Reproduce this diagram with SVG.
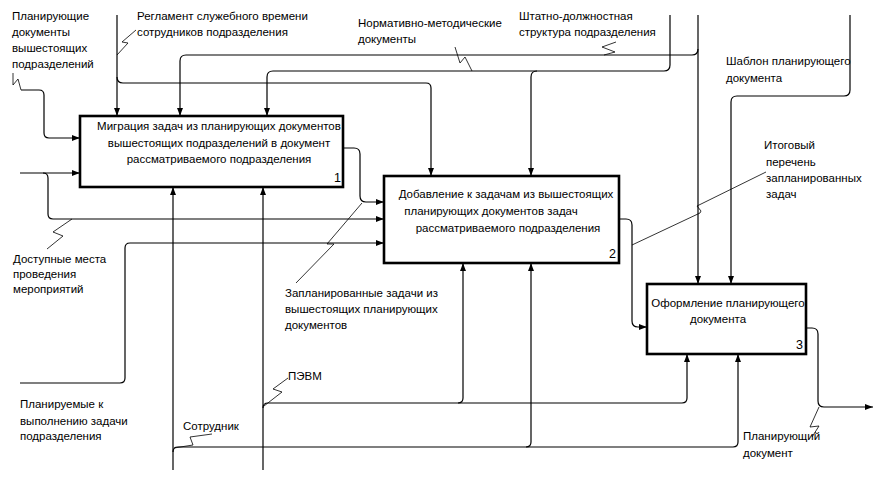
<svg xmlns="http://www.w3.org/2000/svg" width="881" height="477" viewBox="0 0 881 477">
  <defs>
    <marker id="arrow" markerUnits="userSpaceOnUse" markerWidth="10" markerHeight="8" refX="8" refY="3.5" orient="auto">
      <path d="M0,0.5 L2.5,1.5 L8,3.5 L2.5,5.5 L0,6.5 z" fill="#000"/>
    </marker>
    <style>
      .box { fill: #fff; stroke: #000; stroke-width: 2.6; }
      .con { fill: none; stroke: #000; stroke-width: 1.2; }
      .lead { fill: none; stroke: #000; stroke-width: 0.8; }
      text { font-family: "Liberation Sans", Arial, sans-serif; font-size: 11.5px; fill: #000; }
      .num { font-size: 12.5px; }
      .mid { text-anchor: middle; }
    </style>
  </defs>
  <rect width="881" height="477" fill="#fff"/>

  <!-- Connectors -->
  <g id="connectors">
    <!-- controls -->
    <path class="con" d="M117,15 V116" marker-end="url(#arrow)"/>
    <path class="con" d="M117,77 Q117,83 123,83 H426 Q431,83 431,88 V176" marker-end="url(#arrow)"/>
    <path class="con" d="M698,15 V284" marker-end="url(#arrow)"/>
    <path class="con" d="M698,49 Q698,55 692,55 H186 Q180,55 180,61 V116" marker-end="url(#arrow)"/>
    <path class="con" d="M670,15 V65 Q670,71 664,71 H273 Q267,71 267,77 V116" marker-end="url(#arrow)"/>
    <path class="con" d="M537,71 Q531,71 531,77 V176" marker-end="url(#arrow)"/>
    <path class="con" d="M850,15 V90 Q850,96 844,96 H737 Q731,96 731,102 V284" marker-end="url(#arrow)"/>
    <!-- inputs -->
    <path class="con" d="M21,90 H39 Q44,90 44,95 V133 Q44,138 49,138 H80" marker-end="url(#arrow)"/>
    <path class="con" d="M20,173 H80" marker-end="url(#arrow)"/>
    <path class="con" d="M43,173 Q48,173 48,178 V214 Q48,219 53,219 H384" marker-end="url(#arrow)"/>
    <path class="con" d="M20,383 H120 Q125,383 125,378 V248 Q125,243 130,243 H384" marker-end="url(#arrow)"/>
    <!-- outputs -->
    <path class="con" d="M343,148 H354 Q360,148 360,154 V196 Q360,202 366,202 H384" marker-end="url(#arrow)"/>
    <path class="con" d="M619,219 H626 Q632,219 632,225 V321 Q632,327 638,327 H647" marker-end="url(#arrow)"/>
    <path class="con" d="M806,328 H812 Q818,328 818,334 V401 Q818,407 824,407 H873" marker-end="url(#arrow)"/>
    <!-- mechanisms -->
    <path class="con" d="M173,470 V187" marker-end="url(#arrow)"/>
    <path class="con" d="M173,452 Q173,447 178,447 H733 Q738,447 738,442 V354" marker-end="url(#arrow)"/>
    <path class="con" d="M526,447 Q531,447 531,442 V263" marker-end="url(#arrow)"/>
    <path class="con" d="M263,470 V187" marker-end="url(#arrow)"/>
    <path class="con" d="M263,408 Q263,403 268,403 H682 Q687,403 687,398 V354" marker-end="url(#arrow)"/>
    <path class="con" d="M458,403 Q463,403 463,398 V263" marker-end="url(#arrow)"/>
    <!-- label leaders -->
    <path class="lead" d="M13,73 L13,85 L18,79 L21,90"/>
    <path class="lead" d="M136,30 L122,42 L128,43 L117,55"/>
    <path class="lead" d="M455,47 L460,63 L465,57 L472,71"/>
    <path class="lead" d="M616,42 L602,47 L615,52 L604,55"/>
    <path class="lead" d="M47,249 L63,236 L53,232 L72,219"/>
    <path class="lead" d="M296,283 L334,244 L327,244 L362,203"/>
    <path class="lead" d="M766,172 L697,206 L701,211 L700,213 L632,245"/>
    <path class="lead" d="M812,437 L819,426 L810,427 L819,407"/>
    <path class="lead" d="M174,448 L193,445 L190,437 L212,434"/>
    <path class="lead" d="M264,406 L282,392 L273,389 L288,378"/>
  </g>

  <!-- Activity 1 -->
  <g id="node1">
    <rect class="box" x="80" y="116" width="263" height="71"/>
    <text class="mid" x="219" y="130">Миграция задач из планирующих документов</text>
    <text class="mid" x="219" y="147">вышестоящих подразделений в документ</text>
    <text class="mid" x="219" y="163">рассматриваемого подразделения</text>
    <text class="num" x="334" y="182">1</text>
  </g>

  <!-- Activity 2 -->
  <g id="node2">
    <rect class="box" x="384" y="176" width="235" height="87"/>
    <text class="mid" x="506" y="198">Добавление к задачам из вышестоящих</text>
    <text class="mid" x="491" y="215">планирующих документов задач</text>
    <text class="mid" x="508" y="232">рассматриваемого подразделения</text>
    <text class="num" x="609" y="258">2</text>
  </g>

  <!-- Activity 3 -->
  <g id="node3">
    <rect class="box" x="647" y="284" width="159" height="70"/>
    <text class="mid" x="728" y="307">Оформление планирующего</text>
    <text class="mid" x="718" y="323">документа</text>
    <text class="num" x="796" y="349">3</text>
  </g>

  <!-- Arrow labels -->
  <g id="labels">
    <text x="12" y="20">Планирующие</text>
    <text x="12" y="36">документы</text>
    <text x="12" y="52">вышестоящих</text>
    <text x="12" y="68">подразделений</text>

    <text x="137" y="20">Регламент служебного времени</text>
    <text x="137" y="36">сотрудников подразделения</text>

    <text x="358" y="27">Нормативно-методические</text>
    <text x="358" y="43">документы</text>

    <text x="519" y="20">Штатно-должностная</text>
    <text x="519" y="36">структура подразделения</text>

    <text x="726" y="65">Шаблон планирующего</text>
    <text x="726" y="82">документа</text>

    <text x="764" y="149">Итоговый</text>
    <text x="766" y="166">перечень</text>
    <text x="766" y="182">запланированных</text>
    <text x="766" y="198">задач</text>

    <text x="13" y="263">Доступные места</text>
    <text x="13" y="278">проведения</text>
    <text x="13" y="293">мероприятий</text>

    <text x="285" y="297">Запланированные задачи из</text>
    <text x="285" y="313">вышестоящих планирующих</text>
    <text x="285" y="329">документов</text>

    <text x="20" y="408">Планируемые к</text>
    <text x="20" y="425">выполнению задачи</text>
    <text x="20" y="440">подразделения</text>

    <text x="183" y="430">Сотрудник</text>
    <text x="288" y="380">ПЭВМ</text>

    <text x="743" y="440">Планирующий</text>
    <text x="743" y="457">документ</text>
  </g>
</svg>
